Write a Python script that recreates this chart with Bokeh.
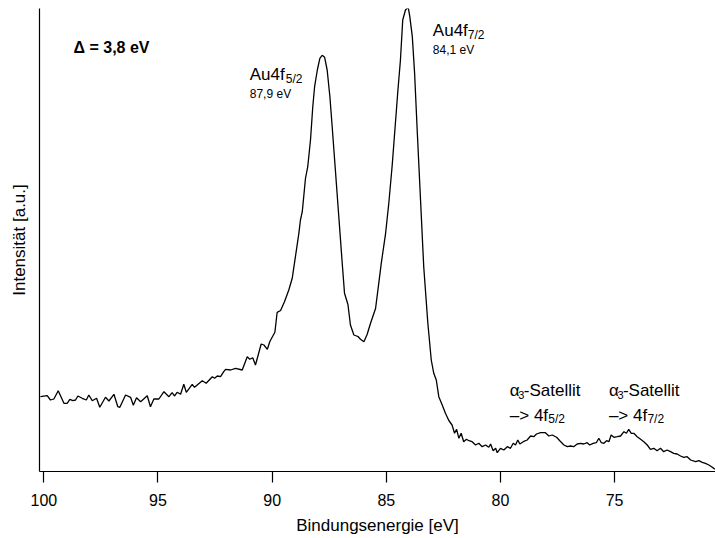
from bokeh.plotting import figure
from bokeh.models import Range1d, Label, FixedTicker
from bokeh.embed import file_html
from bokeh.resources import INLINE

binding_energy_ev = [
    100.15, 99.85, 99.71, 99.56, 99.37, 99.12, 98.98, 98.86, 98.73, 98.61,
    98.51, 98.32, 98.14, 98.03, 97.88, 97.69, 97.55, 97.30, 97.15, 96.93,
    96.76, 96.67, 96.42, 96.20, 96.08, 95.94, 95.76, 95.47, 95.33, 95.18,
    94.96, 94.74, 94.52, 94.38, 94.28, 94.16, 94.01, 93.87, 93.76, 93.50,
    93.40, 93.06, 92.89, 92.62, 92.52, 92.40, 92.26, 92.12, 92.04, 91.82,
    91.60, 91.31, 91.09, 90.98, 90.85, 90.73, 90.48, 90.36, 90.21, 90.10,
    89.88, 89.78, 89.63, 89.46, 89.27, 89.12, 88.98, 88.83, 88.76, 88.68,
    88.54, 88.44, 88.32, 88.22, 88.14, 88.02, 87.91, 87.81, 87.70, 87.59,
    87.47, 87.37, 87.23, 87.08, 86.93, 86.83, 86.68, 86.57, 86.42, 86.30,
    86.23, 86.13, 85.98, 85.84, 85.69, 85.47, 85.33, 85.22, 85.03, 84.89,
    84.74, 84.59, 84.49, 84.38, 84.28, 84.16, 84.04, 83.97, 83.86, 83.76,
    83.64, 83.50, 83.36, 83.18, 83.03, 82.92, 82.81, 82.70, 82.55, 82.41,
    82.26, 82.12, 82.01, 81.92, 81.82, 81.72, 81.61, 81.49, 81.38, 81.24,
    81.09, 80.95, 80.80, 80.65, 80.51, 80.43, 80.32, 80.21, 80.14, 80.00,
    79.85, 79.70, 79.56, 79.44, 79.34, 79.24, 79.15, 79.00, 78.83, 78.68,
    78.54, 78.42, 78.24, 78.03, 77.88, 77.73, 77.54, 77.40, 77.22, 77.07,
    76.93, 76.79, 76.64, 76.49, 76.35, 76.20, 76.09, 75.94, 75.80, 75.69,
    75.58, 75.47, 75.35, 75.25, 75.15, 75.03, 74.88, 74.74, 74.59, 74.48,
    74.38, 74.27, 74.16, 74.01, 73.86, 73.72, 73.57, 73.43, 73.28, 73.14,
    72.99, 72.85, 72.70, 72.55, 72.41, 72.26, 72.11, 71.97, 71.82, 71.67,
    71.45, 71.31, 71.16, 71.02, 70.87, 70.72, 70.61,
]

intensity_au = [
    74.8, 75.8, 71.5, 72.5, 80.8, 68.2, 68.2, 72.2, 70.8, 71.5,
    75.5, 73.2, 71.5, 76.5, 70.8, 73.2, 64.2, 74.2, 70.5, 77.2,
    64.8, 64.2, 76.5, 74.2, 66.2, 73.8, 69.8, 75.8, 64.8, 72.5,
    72.5, 79.8, 74.8, 78.8, 75.5, 79.2, 77.2, 87.2, 79.2, 87.2,
    84.2, 90.8, 88.2, 94.8, 93.2, 95.5, 94.8, 99.8, 102.2, 101.5,
    103.2, 101.5, 114.8, 112.2, 113.8, 106.5, 127.5, 126.5, 122.2, 130.0,
    139.2, 159.2, 161.0, 169.8, 181.5, 193.2, 214.8, 238.2, 251.5, 259.8,
    293.0, 304.8, 331.5, 364.8, 384.8, 401.5, 413.2, 416.2, 414.2, 401.5,
    374.8, 344.8, 301.5, 254.8, 208.2, 178.2, 167.0, 146.5, 136.5, 135.5,
    134.8, 132.2, 129.8, 137.0, 148.2, 163.0, 188.2, 208.2, 238.2, 268.2,
    306.5, 351.5, 381.5, 411.5, 451.5, 461.5, 464.2, 454.8, 434.8, 398.2,
    338.2, 271.5, 204.8, 148.2, 111.5, 98.2, 91.5, 74.8, 66.5, 58.2,
    51.0, 46.5, 38.2, 42.2, 33.2, 38.2, 29.8, 32.2, 30.8, 29.8,
    26.5, 28.2, 24.8, 26.5, 24.2, 27.5, 20.8, 23.2, 18.8, 23.2,
    21.5, 24.8, 23.2, 28.2, 26.5, 31.5, 27.5, 29.8, 31.5, 35.5,
    34.8, 37.5, 38.8, 38.8, 35.5, 36.5, 34.2, 30.8, 26.5, 24.8,
    25.5, 24.8, 27.5, 28.2, 27.5, 28.8, 26.5, 28.2, 28.8, 33.2,
    28.8, 28.2, 30.8, 29.8, 36.5, 34.2, 34.8, 35.5, 39.8, 38.2,
    42.2, 38.2, 38.2, 34.8, 32.2, 29.8, 26.5, 22.2, 23.2, 20.8,
    23.2, 19.8, 21.5, 19.8, 18.2, 17.5, 15.5, 14.2, 14.8, 11.5,
    9.8, 10.8, 9.2, 8.2, 6.5, 4.2, 2.2,
]

x_ticks = [100, 95, 90, 85, 80, 75]

FONT = "Liberation Sans"

p = figure(
    width=715, height=538,
    output_backend="svg", toolbar_location=None,
    x_range=Range1d(100.19, 70.58), y_range=Range1d(0, 463),
    min_border_left=39, min_border_right=0, min_border_top=8, min_border_bottom=67,
)
p.background_fill_color = "white"
p.border_fill_color = "white"
p.outline_line_color = None
p.grid.visible = False

p.line(binding_energy_ev, intensity_au, line_color="black", line_width=1.3)

xa = p.xaxis[0]
xa.ticker = FixedTicker(ticks=x_ticks)
xa.minor_tick_line_color = None
xa.major_tick_in = 0
xa.major_tick_out = 11
xa.major_tick_line_color = "black"
xa.major_tick_line_width = 1.2
xa.axis_line_color = "black"
xa.axis_line_width = 1.2
xa.major_label_text_font = FONT
xa.major_label_text_font_size = "16px"
xa.major_label_text_color = "black"
xa.major_label_standoff = 11
xa.axis_label = "Bindungsenergie [eV]"
xa.axis_label_text_font = FONT
xa.axis_label_text_font_size = "17px"
xa.axis_label_text_font_style = "normal"
xa.axis_label_text_color = "black"
xa.axis_label_standoff = 7

ya = p.yaxis[0]
ya.ticker = FixedTicker(ticks=[])
ya.minor_tick_line_color = None
ya.major_tick_line_color = None
ya.major_label_text_font_size = "0px"
ya.axis_line_color = "black"
ya.axis_line_width = 1.2
ya.axis_label = "Intensität [a.u.]"
ya.axis_label_text_font = FONT
ya.axis_label_text_font_size = "17px"
ya.axis_label_text_font_style = "normal"
ya.axis_label_text_color = "black"
ya.axis_label_standoff = 11


def lab(x, y, text, size, style="normal", dx=0):
    p.add_layout(Label(x=x, y=y, x_offset=dx, text=text, text_font=FONT,
                       text_font_size=size, text_font_style=style,
                       text_color="black", text_align="left",
                       text_baseline="alphabetic"))


lab(98.70, 424.2, "Δ = 3,8 eV", "16px", "bold")

lab(90.98, 397.5, "Au4f", "17px")
lab(90.98, 392.2, "5/2", "12px", dx=36)
lab(90.98, 377.2, "87,9 eV", "12px")

lab(82.96, 441.5, "Au4f", "17px")
lab(82.96, 436.5, "7/2", "12px", dx=35)
lab(82.96, 421.5, "84,1 eV", "12px")

for x0, sub in [(79.59, "5/2"), (75.25, "7/2")]:
    lab(x0, 81.5, "α", "17px")
    lab(x0, 76.5, "3", "11px", dx=8.5)
    lab(x0, 81.5, "-Satellit", "17px", dx=14)
    lab(x0, 56.5, "–> 4f", "17px")
    lab(x0, 52.2, sub, "12px", dx=38.5)

open("out.html", "w").write(file_html(p, INLINE))
